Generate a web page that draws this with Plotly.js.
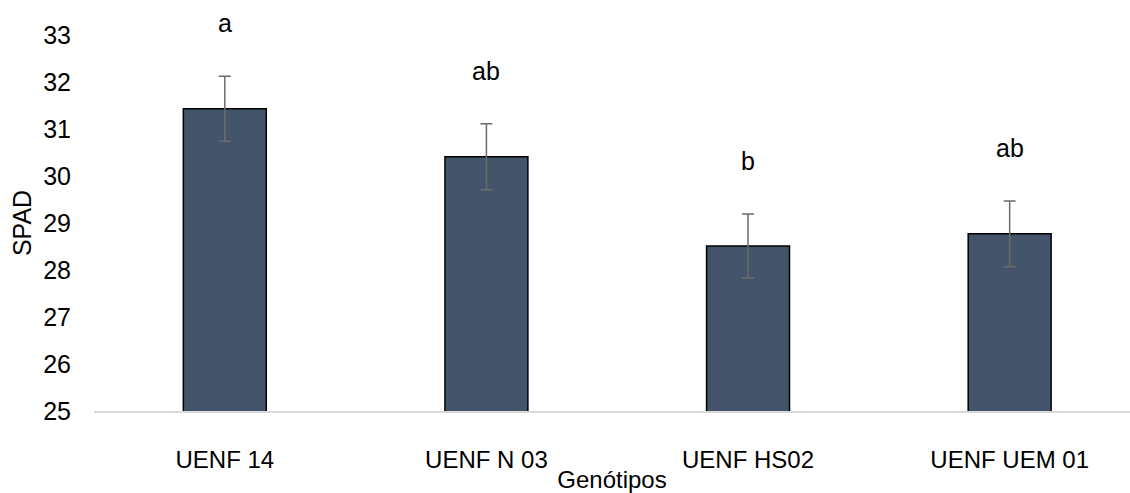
<!DOCTYPE html>
<html>
<head>
<meta charset="utf-8">
<script src="https://cdn.plot.ly/plotly-3.0.1.min.js"></script>
<style>html,body{margin:0;padding:0;background:#fff;}#chart{width:1130px;height:493px;}</style>
</head>
<body>
<div id="chart"></div>
<script>
const categories = ["UENF 14", "UENF N 03", "UENF HS02", "UENF UEM 01"];
const spadValues = [31.43, 30.41, 28.51, 28.77];
const errorValues = [0.69, 0.70, 0.68, 0.70];
const letters = ["a", "ab", "b", "ab"];
const yTicks = [25, 26, 27, 28, 29, 30, 31, 32, 33];

const FONT = "Liberation Sans, Arial, sans-serif";
const FS = 25;
const FSX = 24;
const Y_MIN = 25, Y_MAX = 33;

const trace = {
  type: "bar",
  x: categories,
  y: spadValues,
  width: 0.317,
  marker: { color: "#44546A", line: { color: "#000000", width: 1.5 } },
  error_y: { type: "data", array: errorValues, visible: true, color: "#6b6b6b", thickness: 1.5, width: 6 },
  hoverinfo: "skip"
};

const annotations = categories.map((c, i) => ({
  x: c,
  y: (spadValues[i] + errorValues[i] + 1.13 - Y_MIN) / (Y_MAX - Y_MIN),
  xref: "x", yref: "paper",
  text: letters[i], showarrow: false,
  font: { family: FONT, size: FS, color: "#000" },
  xanchor: "center", yanchor: "middle"
}));

const layout = {
  width: 1130, height: 493,
  margin: { l: 94, r: 0, t: 35, b: 82, pad: 0 },
  paper_bgcolor: "#fff", plot_bgcolor: "#fff",
  showlegend: false,
  xaxis: {
    type: "category",
    range: [-0.5, 3.46],
    showgrid: false, zeroline: false,
    showline: true, linecolor: "#d9d9d9", linewidth: 1.5,
    ticks: "", ticklabelstandoff: 27,
    tickfont: { family: FONT, size: FSX, color: "#000" },
    title: { text: "Genótipos", font: { family: FONT, size: FSX, color: "#000" }, standoff: 4 }
  },
  yaxis: {
    range: [Y_MIN, Y_MAX],
    tickvals: yTicks,
    ticktext: yTicks.map(String),
    showgrid: false, zeroline: false, showline: false,
    ticks: "", ticklabelstandoff: 22,
    tickfont: { family: FONT, size: FS, color: "#000" },
    title: { text: "SPAD", font: { family: FONT, size: FS, color: "#000" }, standoff: 4 }
  },
  annotations: annotations
};

Plotly.newPlot("chart", [trace], layout, { displayModeBar: false, staticPlot: true });
</script>
</body>
</html>
